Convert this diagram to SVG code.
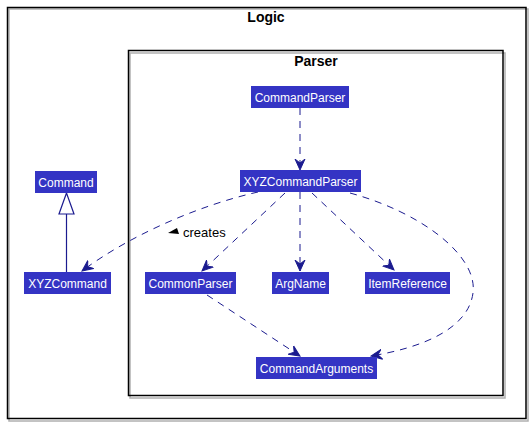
<svg xmlns="http://www.w3.org/2000/svg" width="532" height="425" viewBox="0 0 532 425">
<style>
.frame{fill:none;stroke:#000;stroke-width:1.5}
.shadow{fill:none;stroke:#b0b0b0;stroke-width:1.5}
.title{font-family:"Liberation Sans",Arial,sans-serif;font-size:14px;font-weight:bold;fill:#000;text-anchor:middle}
.node rect{fill:#3434C4}
.node text{font-family:"Liberation Sans",Arial,sans-serif;font-size:12px;fill:#fff;text-anchor:middle}
.dep{fill:none;stroke:#1B1B8F;stroke-width:1;stroke-dasharray:7,6;marker-end:url(#vee)}
.gen{fill:none;stroke:#1B1B8F;stroke-width:1.2}
.lbl{font-family:"Liberation Sans",Arial,sans-serif;font-size:13px;fill:#000}
</style>
<defs>
<marker id="vee" viewBox="0 0 12 12" refX="11" refY="6" markerWidth="12" markerHeight="12" markerUnits="userSpaceOnUse" orient="auto">
<path d="M0,1 L11,6 L0,11 L4,6 Z" fill="#1B1B8F" stroke="#1B1B8F" stroke-width="1" stroke-linejoin="miter"/>
</marker>
</defs>
<rect width="532" height="425" fill="#fff"/>
<g id="logic">
<rect class="shadow" x="9" y="9" width="519" height="412"/>
<rect class="frame" x="7.5" y="7.5" width="518.5" height="411" fill="#fff"/>
<text class="title" x="266" y="22">Logic</text>
</g>
<g id="parser">
<rect class="shadow" x="130" y="53" width="375" height="345"/>
<rect class="frame" x="128.5" y="50.5" width="374.5" height="345" fill="#fff"/>
<text class="title" x="316" y="66">Parser</text>
</g>
<g id="connectors">
<path class="dep" d="M300,108 L300,170"/>
<path class="dep" d="M258,192 C200,205 130,235 82,271"/>
<path class="dep" d="M285,193 L202,271"/>
<path class="dep" d="M300,192 L300,271"/>
<path class="dep" d="M312,193 L394,270"/>
<path class="dep" d="M350,193 C420,212 478,255 473,293 C468,330 420,348 371,356"/>
<path class="dep" d="M207,295 L300,356"/>
<line class="gen" x1="66.5" y1="214" x2="66.5" y2="272"/>
<polygon points="66.5,193 59,214 74,214" fill="#fff" stroke="#1B1B8F" stroke-width="1.2"/>
<polygon points="168,233 177,228 179,234" fill="#000"/>
<text class="lbl" x="183" y="237">creates</text>
</g>
<g id="CommandParser" class="node"><rect x="251" y="86" width="98" height="22"/><text x="300" y="101.5">CommandParser</text></g>
<g id="XYZCommandParser" class="node"><rect x="240" y="170" width="121" height="22"/><text x="300.5" y="185.5">XYZCommandParser</text></g>
<g id="Command" class="node"><rect x="35" y="171" width="62" height="22"/><text x="66" y="186.5">Command</text></g>
<g id="XYZCommand" class="node"><rect x="24" y="272" width="87" height="22"/><text x="67.5" y="287.5">XYZCommand</text></g>
<g id="CommonParser" class="node"><rect x="145" y="272" width="91" height="22"/><text x="190.5" y="287.5">CommonParser</text></g>
<g id="ArgName" class="node"><rect x="272" y="272" width="57" height="22"/><text x="300.5" y="287.5">ArgName</text></g>
<g id="ItemReference" class="node"><rect x="365" y="272" width="85" height="22"/><text x="407.5" y="287.5">ItemReference</text></g>
<g id="CommandArguments" class="node"><rect x="256" y="357" width="121" height="22"/><text x="316.5" y="372.5">CommandArguments</text></g>
</svg>
